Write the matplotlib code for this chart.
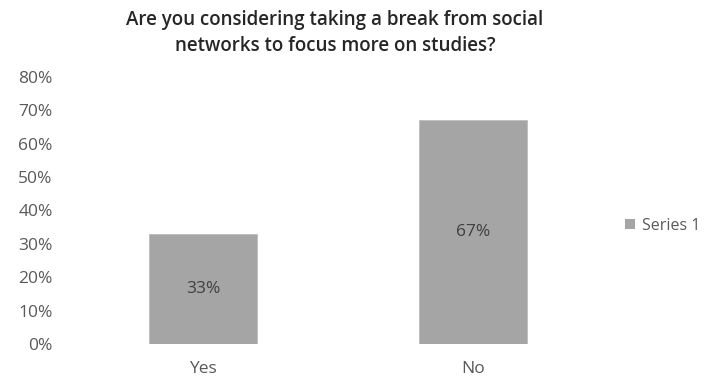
import matplotlib
matplotlib.use("Agg")
import matplotlib.pyplot as plt
from matplotlib.ticker import FuncFormatter
from matplotlib.patches import Patch

categories = ["Yes", "No"]
values = [0.33, 0.67]
value_labels = ["33%", "67%"]
series_name = "Series 1"
title = "Are you considering taking a break from social\nnetworks to focus more on studies?"

plt.rcParams['font.family'] = ['Open Sans', 'DejaVu Sans']

fig = plt.figure(figsize=(7.06, 3.78), dpi=100)
ax = fig.add_axes([68/706, 1-344/378, 540/706, 267/378])

x = list(range(len(categories)))
bars = ax.bar(x, values, width=0.4, color="#a5a5a5", edgecolor="#bdbdbd", linewidth=0.6)
for xi, v, lab in zip(x, values, value_labels):
    ax.text(xi, v/2, lab, ha="center", va="center", fontsize=12.5, color="#404040")

ax.set_xlim(-0.5, 1.5)
ax.set_ylim(0, 0.8)
ax.set_yticks([i/10 for i in range(9)])
ax.yaxis.set_major_formatter(FuncFormatter(lambda v, p: f"{v*100:.0f}%"))
ax.set_xticks(x)
ax.set_xticklabels(categories)
for s in ax.spines.values():
    s.set_visible(False)
ax.tick_params(axis="both", length=0, labelsize=12.5, labelcolor="#595959")
ax.tick_params(axis="y", pad=11)
ax.tick_params(axis="x", pad=12)

fig.text(335/706, 1-33/378, title, ha="center", va="center", fontsize=13.5,
         color="#262626", fontweight="semibold", linespacing=1.45)

fig.legend(handles=[Patch(facecolor="#a5a5a5", label=series_name)],
           loc="center left", bbox_to_anchor=(625/706, 1-226/378), frameon=False,
           fontsize=11.5, handlelength=0.6, handleheight=0.6, handletextpad=0.45,
           labelcolor="#595959", borderaxespad=0, borderpad=0)

fig.savefig("out.png", dpi=100)
